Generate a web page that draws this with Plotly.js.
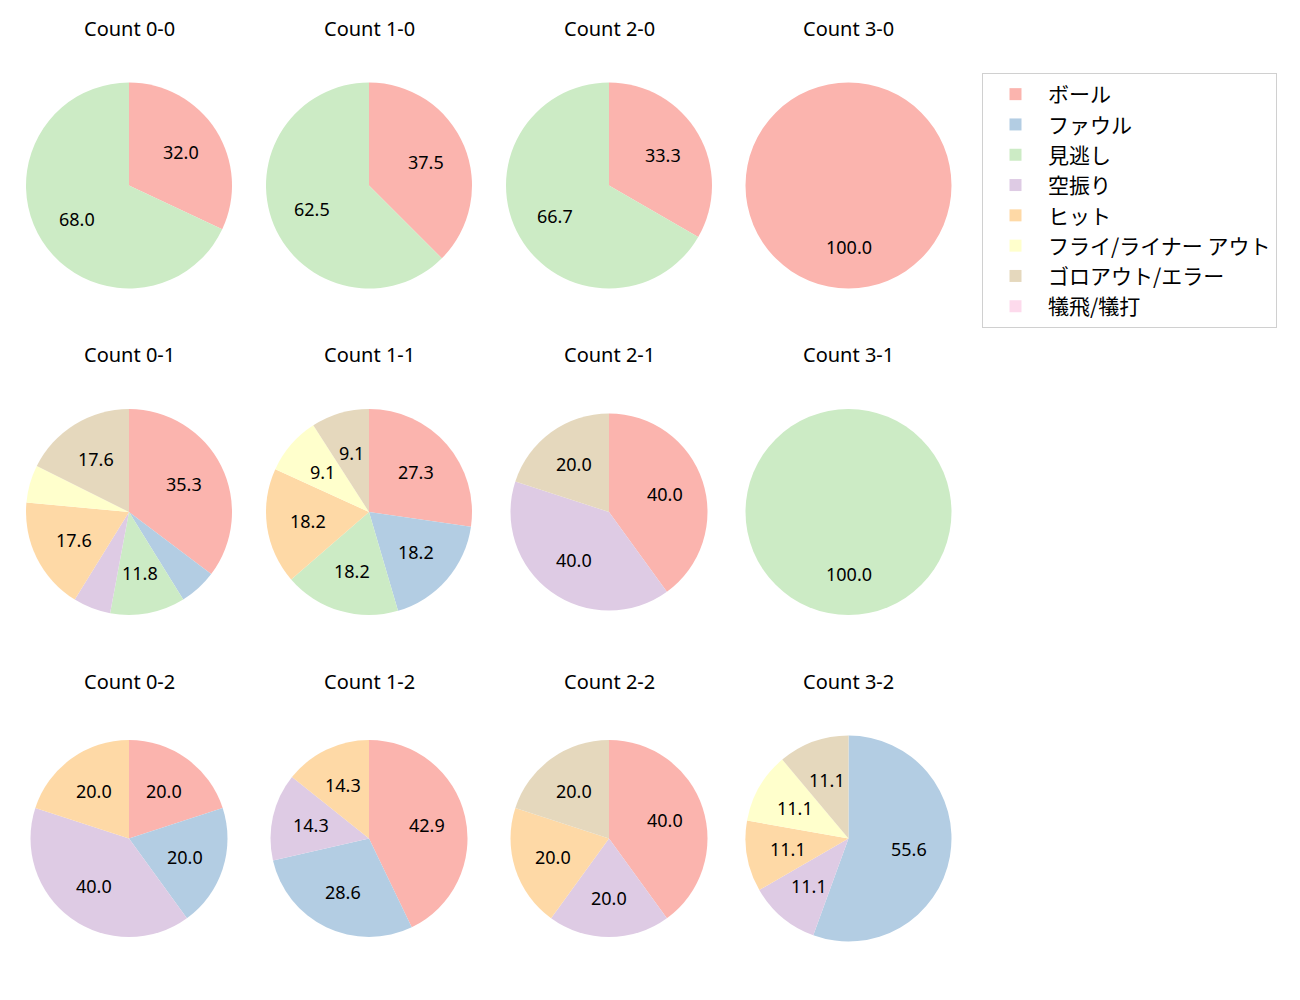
<!DOCTYPE html>
<html>
<head>
<meta charset="utf-8">
<script src="https://cdn.plot.ly/plotly-3.0.1.min.js"></script>
<style>html,body{margin:0;padding:0;background:#fff;}#chart{width:1300px;height:1000px;}</style>
</head>
<body>
<div id="chart"></div>
<script>
// ---- data ----
const labels = ["ボール", "ファウル", "見逃し", "空振り", "ヒット", "フライ/ライナー アウト", "ゴロアウト/エラー", "犠飛/犠打"];
const colors = ["#fbb4ae", "#b3cde3", "#ccebc5", "#decbe4", "#fed9a6", "#ffffcc", "#e5d8bd", "#fddaec"];
const countTitles = ["Count 0-0", "Count 1-0", "Count 2-0", "Count 3-0",
                     "Count 0-1", "Count 1-1", "Count 2-1", "Count 3-1",
                     "Count 0-2", "Count 1-2", "Count 2-2", "Count 3-2"];
const count00 = [8, 0, 17, 0, 0, 0, 0, 0];
const count10 = [3, 0, 5, 0, 0, 0, 0, 0];
const count20 = [1, 0, 2, 0, 0, 0, 0, 0];
const count30 = [1, 0, 0, 0, 0, 0, 0, 0];
const count01 = [6, 1, 2, 1, 3, 1, 3, 0];
const count11 = [3, 2, 2, 0, 2, 1, 1, 0];
const count21 = [2, 0, 0, 2, 0, 0, 1, 0];
const count31 = [0, 0, 1, 0, 0, 0, 0, 0];
const count02 = [1, 1, 0, 2, 1, 0, 0, 0];
const count12 = [3, 2, 0, 1, 1, 0, 0, 0];
const count22 = [2, 0, 0, 1, 1, 0, 1, 0];
const count32 = [0, 5, 0, 1, 1, 1, 1, 0];
const allCounts = [count00, count10, count20, count30, count01, count11, count21, count31, count02, count12, count22, count32];

// ---- layout geometry (pixels) ----
const W = 1300, H = 1000;
const colCenters = [129, 369, 609, 848.5];
const rowCenters = [185.5, 512, 838.5];
const radii = [103, 103, 103, 103, 103, 103, 98.5, 103, 98.5, 98.5, 98.5, 103];
const titleRowY = [28, 354, 681];
const minLabelPct = 8;
const FONT = "'Noto Sans', 'Noto Sans CJK JP', sans-serif";
const JPFONT = "'Noto Sans CJK JP', 'Noto Sans', sans-serif";

const traces = [];
const annotations = [];
allCounts.forEach((vals, i) => {
  const col = i % 4, row = Math.floor(i / 4);
  const cx = colCenters[col], cy = rowCenters[row], r = radii[i];
  traces.push({
    type: "pie",
    labels: labels,
    values: vals,
    sort: false,
    direction: "clockwise",
    rotation: 0,
    marker: {colors: colors, line: {width: 0}},
    textinfo: "none",
    hoverinfo: "label+percent",
    showlegend: i === 0,
    domain: {x: [(cx - r) / W, (cx + r) / W], y: [1 - (cy + r) / H, 1 - (cy - r) / H]}
  });
  // percentage labels at 0.6 radius along each slice's mid-angle
  const total = vals.reduce((a, b) => a + b, 0);
  let cum = 0;
  vals.forEach(v => {
    if (v > 0) {
      const pct = v / total * 100;
      const mid = (cum + v / 2) / total * 2 * Math.PI;
      if (pct >= minLabelPct) {
        annotations.push({
          xref: "paper", yref: "paper",
          x: (cx + 0.6 * r * Math.sin(mid)) / W,
          y: 1 - (cy - 0.6 * r * Math.cos(mid)) / H,
          text: pct.toFixed(1), showarrow: false,
          xanchor: "center", yanchor: "middle",
          font: {size: 18, color: "#000", family: FONT}
        });
      }
    }
    cum += v;
  });
  annotations.push({
    xref: "paper", yref: "paper",
    x: cx / W, y: 1 - titleRowY[row] / H,
    text: countTitles[i], showarrow: false,
    xanchor: "center", yanchor: "middle",
    font: {size: 20, color: "#000", family: FONT}
  });
});

const layout = {
  width: W, height: H,
  margin: {l: 0, r: 0, t: 0, b: 0},
  paper_bgcolor: "#fff",
  font: {family: FONT, color: "#000"},
  showlegend: true,
  legend: {
    x: 982 / W, y: 1 - 73 / H, xanchor: "left", yanchor: "top",
    bgcolor: "#fff", bordercolor: "#d0d0d0", borderwidth: 1,
    font: {size: 21, family: JPFONT, color: "#000"},
    itemwidth: 55,
    traceorder: "normal"
  },
  annotations: annotations
};

Plotly.newPlot("chart", traces, layout, {displayModeBar: false, staticPlot: true});
</script>
</body>
</html>
